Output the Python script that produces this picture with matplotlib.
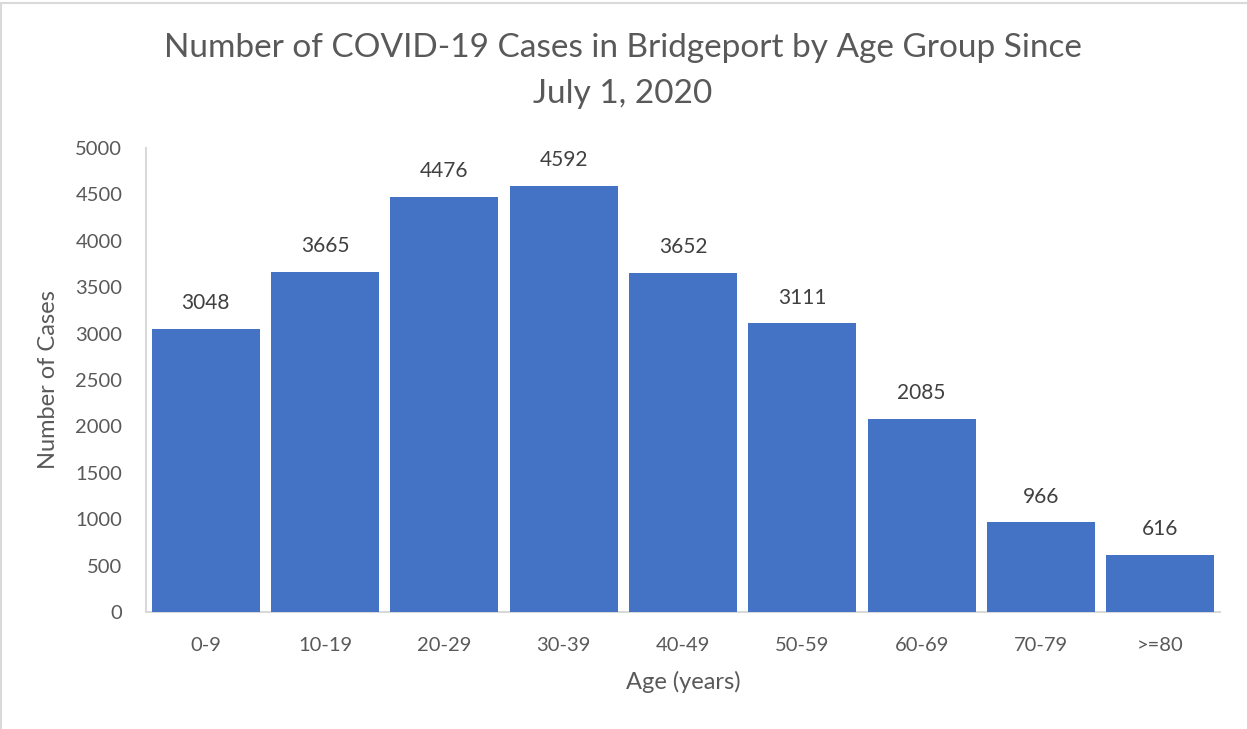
import matplotlib
matplotlib.use('Agg')
import matplotlib.pyplot as plt
from matplotlib.patches import Rectangle
import numpy as np

# ── Data ──────────────────────────────────────────────────────────────────────
age_groups = ['0-9', '10-19', '20-29', '30-39', '40-49', '50-59', '60-69', '70-79', '>=80']
cases      = [3048, 3665, 4476, 4592, 3652, 3111, 2085, 966, 616]
y_ticks    = np.arange(0, 5001, 500)

BLUE = '#4472C4'
GREY = '#595959'
AXIS = '#D9D9D9'

plt.rcParams['font.family'] = ['Lato', 'DejaVu Sans']

fig = plt.figure(figsize=(12.47, 7.29), dpi=100)
ax = fig.add_axes([146 / 1247, 1 - 612 / 729, (1220 - 146) / 1247, (612 - 148) / 729])

x = np.arange(len(age_groups))
bars = ax.bar(x, cases, width=0.905, color=BLUE, zorder=3)

for xi, v in zip(x, cases):
    ax.text(xi, v + 170, f'{v}', ha='center', va='bottom', fontsize=15, color='#404040')

ax.set_xlim(-0.5, len(age_groups) - 0.5)
ax.set_ylim(0, 5000)
ax.set_yticks(y_ticks)
ax.set_xticks(x)
ax.set_xticklabels(age_groups)
ax.tick_params(axis='both', length=0, labelsize=14.5, colors=GREY)
ax.tick_params(axis='x', pad=18)
ax.tick_params(axis='y', pad=17)

for side in ['top', 'right']:
    ax.spines[side].set_visible(False)
for side in ['left', 'bottom']:
    ax.spines[side].set_color(AXIS)
    ax.spines[side].set_linewidth(1.5)

ax.set_xlabel('Age (years)', fontsize=17, color=GREY, labelpad=12)
ax.set_ylabel('Number of Cases', fontsize=17, color=GREY, labelpad=12)

fig.text(623 / 1247, 1 - 48 / 729, 'Number of COVID-19 Cases in Bridgeport by Age Group Since',
         ha='center', va='center', fontsize=24, color=GREY)
fig.text(623 / 1247, 1 - 94 / 729, 'July 1, 2020',
         ha='center', va='center', fontsize=24, color=GREY)

# light frame around the chart area
fig.patches.append(Rectangle((1 / 1247, -0.1), 1.2, 1.1 - 3 / 729, transform=fig.transFigure,
                             fill=False, edgecolor=AXIS, linewidth=1.5))

fig.savefig('out.png', dpi=100)
